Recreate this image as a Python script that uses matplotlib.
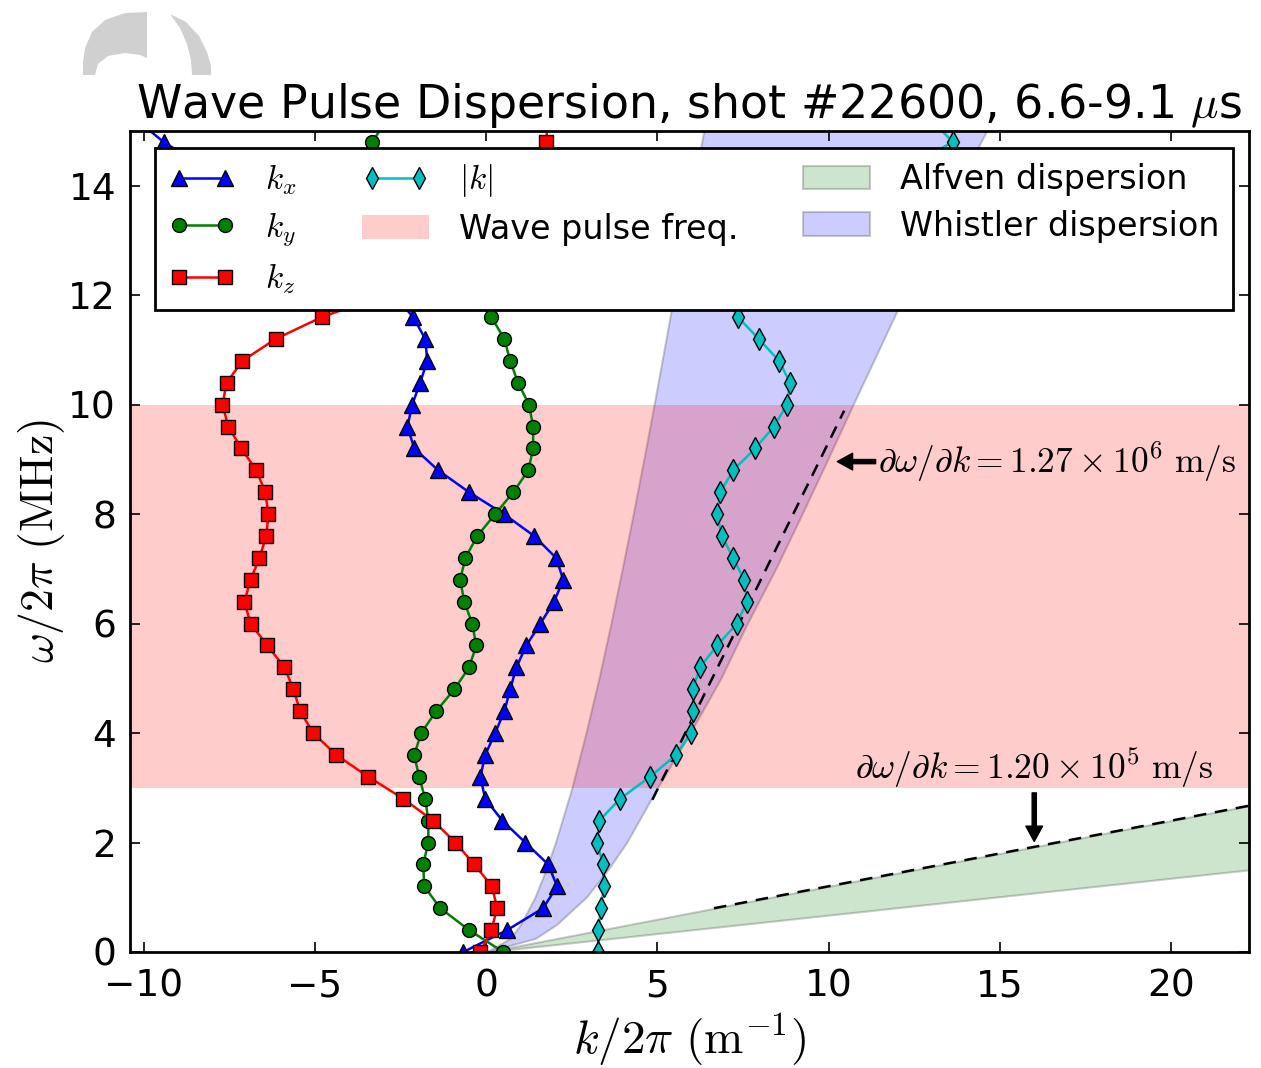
import numpy as np
import matplotlib
matplotlib.use("Agg")
import matplotlib.pyplot as plt
from matplotlib.patches import Patch, Polygon

# --- Data ---
# frequency grid, omega/2pi in MHz
freq = [0.0, 0.4, 0.8, 1.2, 1.6, 2.0, 2.4, 2.8, 3.2, 3.6,
        4.0, 4.4, 4.8, 5.2, 5.6, 6.0, 6.4, 6.8, 7.2, 7.6,
        8.0, 8.4, 8.8, 9.2, 9.6, 10.0, 10.4, 10.8, 11.2, 11.6,
        12.0, 12.4, 12.8, 13.2, 13.6, 14.0, 14.4, 14.8, 15.2]

kx = [-0.67, 0.61, 1.66, 2.07, 1.81, 1.14, 0.47, -0.03, -0.17, -0.03,
      0.26, 0.53, 0.70, 0.88, 1.17, 1.58, 1.98, 2.25, 2.04, 1.40,
      0.52, -0.50, -1.40, -2.10, -2.30, -2.16, -1.93, -1.72, -1.78, -2.13,
      -2.7, -3.5, -4.4, -5.4, -6.4, -7.4, -8.4, -9.42, -10.2]

ky = [0.50, -0.50, -1.34, -1.81, -1.84, -1.69, -1.69, -1.78, -1.96, -2.10,
      -1.90, -1.46, -0.93, -0.50, -0.29, -0.41, -0.64, -0.76, -0.61, -0.26,
      0.26, 0.79, 1.23, 1.37, 1.37, 1.25, 0.93, 0.70, 0.53, 0.15,
      -0.25, -0.7, -1.2, -1.7, -2.2, -2.65, -3.0, -3.33, -2.9]

kz = [-0.17, 0.15, 0.32, 0.17, -0.35, -0.90, -1.55, -2.42, -3.44, -4.38,
      -5.05, -5.43, -5.63, -5.89, -6.39, -6.88, -7.06, -6.88, -6.62, -6.42,
      -6.36, -6.45, -6.71, -7.15, -7.53, -7.70, -7.58, -7.12, -6.15, -4.80,
      -3.0, -1.8, -0.9, -0.2, 0.45, 0.95, 1.4, 1.75, 1.8]

kmag = [3.27, 3.27, 3.35, 3.44, 3.41, 3.24, 3.30, 3.91, 4.78, 5.54,
        5.98, 6.04, 6.04, 6.24, 6.74, 7.32, 7.61, 7.53, 7.21, 6.88,
        6.74, 6.83, 7.21, 7.85, 8.40, 8.78, 8.87, 8.55, 7.96, 7.35,
        7.1, 7.4, 8.1, 9.0, 10.0, 11.2, 12.5, 13.62, 13.0]

# whistler dispersion band (frequency vs. low / high k edge)
whistler_f = [0, 0.25, 0.5, 1, 1.5, 2, 3, 4, 5, 6, 7, 8, 9, 10, 11, 12, 13, 14, 15, 16]
whistler_lo = [0, 0.70, 1.00, 1.42, 1.74, 2.02, 2.50, 2.91, 3.29, 3.64, 3.97,
               4.29, 4.60, 4.90, 5.19, 5.48, 5.77, 6.06, 6.35, 6.64]
whistler_hi = [0, 1.44, 2.05, 2.92, 3.55, 4.10, 5.00, 5.95, 6.85, 7.62, 8.45,
               9.22, 9.97, 10.71, 11.46, 12.21, 12.99, 13.78, 14.61, 15.45]

# alfven dispersion band (k vs. low / high frequency edge)
alfven_k = [0, 23]
alfven_hi = [0, 2.76]
alfven_lo = [0, 1.55]

# wave pulse frequency range (MHz)
pulse_band = (3, 10)

# group velocity fits
fit_w_k = [4.85, 10.45]
fit_w_f = [2.78, 9.89]
fit_a_k = [6.65, 23]
fit_a_f = [0.80, 2.76]

# --- Figure ---
plt.rcParams['mathtext.fontset'] = 'cm'
plt.rcParams['font.family'] = 'DejaVu Sans'

fig = plt.figure(figsize=(12.61, 10.68), dpi=100)
ax = fig.add_axes([130 / 1261, 1 - 952 / 1068, 1119 / 1261, 821 / 1068])

ax.fill_betweenx(whistler_f, whistler_lo, whistler_hi, facecolor='b',
                 edgecolor='k', alpha=0.2, lw=1.5)
ax.fill_between(alfven_k, alfven_lo, alfven_hi, facecolor='g',
                edgecolor='k', alpha=0.2, lw=1.5)
ax.axhspan(pulse_band[0], pulse_band[1], color='r', alpha=0.2, lw=0)

ax.plot(fit_w_k, fit_w_f, 'k--', lw=1.8, dashes=(5, 3.5))
ax.plot(fit_a_k, fit_a_f, 'k--', lw=1.8, dashes=(5, 3.5))

mk = dict(markeredgecolor='k', markeredgewidth=1.0, lw=1.8)
l_kx, = ax.plot(kx, freq, 'b-^', ms=11, **mk)
l_ky, = ax.plot(ky, freq, 'g-o', ms=10, **mk)
l_kz, = ax.plot(kz, freq, 'r-s', ms=10, **mk)
l_km, = ax.plot(kmag, freq, 'c-d', ms=11, **mk)

ax.annotate(r'$\partial\omega/\partial k = 1.27\times10^{6}\ \mathrm{m/s}$',
            xy=(10.25, 8.96), xytext=(11.45, 8.96), fontsize=25.5,
            ha='left', va='center',
            arrowprops=dict(facecolor='black', edgecolor='black',
                            width=3, headwidth=12, headlength=11, shrink=0.0))
ax.annotate(r'$\partial\omega/\partial k = 1.20\times10^{5}\ \mathrm{m/s}$',
            xy=(16.0, 2.02), xytext=(16.0, 3.36), fontsize=25.5,
            ha='center', va='center',
            arrowprops=dict(facecolor='black', edgecolor='black',
                            width=3, headwidth=12, headlength=11, shrink=0.0))

ax.set_xlim(-10.4, 22.27)
ax.set_ylim(0, 15)
ax.set_xticks([-10, -5, 0, 5, 10, 15, 20])
ax.set_yticks([0, 2, 4, 6, 8, 10, 12, 14])
ax.tick_params(direction='in', length=7, width=1.2, labelsize=27,
               top=True, right=True)
ax.tick_params(axis='x', pad=12)
ax.tick_params(axis='y', pad=10)
for s in ax.spines.values():
    s.set_linewidth(2)

ax.set_xlabel(r'$k/2\pi\ (\mathrm{m}^{-1})$', fontsize=34, labelpad=5)
ax.set_ylabel(r'$\omega/2\pi\ (\mathrm{MHz})$', fontsize=33, labelpad=1)
ax.set_title(r'Wave Pulse Dispersion, shot #22600, 6.6-9.1 $\mu$s',
             fontsize=33, pad=9)

h_pulse = Patch(facecolor='r', alpha=0.2, edgecolor='none')
h_alf = Patch(facecolor='g', edgecolor='k', alpha=0.2, lw=1.5)
h_whi = Patch(facecolor='b', edgecolor='k', alpha=0.2, lw=1.5)
leg = ax.legend([l_kx, l_ky, l_kz, l_km, h_pulse, h_alf, h_whi],
                [r'$k_x$', r'$k_y$', r'$k_z$', r'$|k|$', 'Wave pulse freq.',
                 'Alfven dispersion', 'Whistler dispersion'],
                ncol=3, loc='upper left', bbox_to_anchor=(0.022, 0.979),
                borderaxespad=0, fontsize=24, numpoints=2, fancybox=False,
                framealpha=1, edgecolor='k', handlelength=2.0,
                handletextpad=0.9, columnspacing=1.95, labelspacing=0.4,
                borderpad=0.42)
leg.get_frame().set_linewidth(2)

# faint logo in the top-left corner
lax = fig.add_axes([75 / 1261, 1 - 80 / 1068, 140 / 1261, 75 / 1068])
lax.set_xlim(75, 215)
lax.set_ylim(80, 5)
lax.axis('off')
lax.add_patch(Polygon([(147, 12), (125, 13), (105, 20), (92, 32), (85, 48),
                       (83, 62), (83, 75), (95, 75), (98, 64), (108, 56),
                       (125, 53), (140, 55), (147, 58)],
                      closed=True, color='#d0d0d0', lw=0))
lax.add_patch(Polygon([(170, 14), (186, 22), (199, 36), (207, 52), (211, 66),
                       (211, 75), (192, 75), (191, 60), (187, 44), (180, 28)],
                      closed=True, color='#d0d0d0', lw=0))

fig.savefig('out.png', dpi=100)
